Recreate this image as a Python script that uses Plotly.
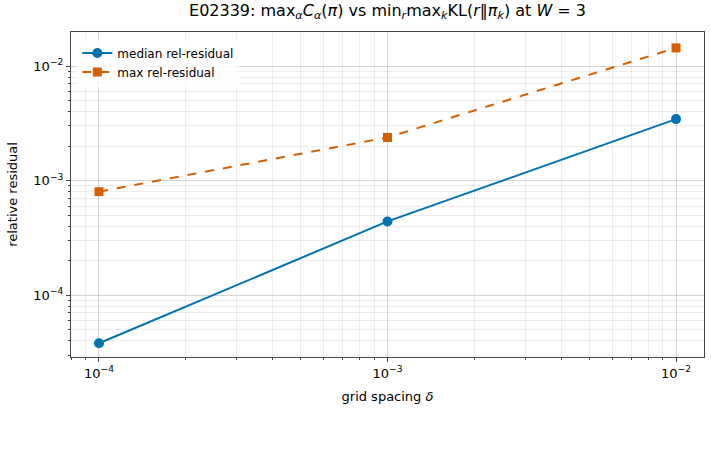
import plotly.graph_objects as go
import math

delta = [1e-4, 1e-3, 1e-2]
median_res = [3.8e-5, 4.4e-4, 3.44e-3]
max_res = [8.0e-4, 2.38e-3, 1.44e-2]

x_tickvals = [1e-4, 1e-3, 1e-2]
x_ticktext = ["10<sup>−4</sup>", "10<sup>−3</sup>", "10<sup>−2</sup>"]
y_tickvals = [1e-4, 1e-3, 1e-2]
y_ticktext = ["10<sup>−4</sup>", "10<sup>−3</sup>", "10<sup>−2</sup>"]

blue = "#0072B2"
orange = "#D55E00"

fig = go.Figure()
fig.add_trace(go.Scatter(x=delta, y=median_res, mode="lines+markers", name="median rel-residual",
                         line=dict(color=blue, width=2), marker=dict(symbol="circle", size=10, color=blue)))
fig.add_trace(go.Scatter(x=delta, y=max_res, mode="lines+markers", name="max rel-residual",
                         line=dict(color=orange, width=2, dash="dash"),
                         marker=dict(symbol="square", size=9, color=orange)))

axis_common = dict(type="log", showline=True, linecolor="#444", linewidth=1.2, mirror=True,
                   ticks="outside", ticklen=4, tickcolor="#444",
                   showgrid=True, gridcolor="rgba(0,0,0,0.10)", gridwidth=1, zeroline=False,
                   minor=dict(dtick="D1", showgrid=True, gridcolor="rgba(0,0,0,0.07)",
                              ticks="outside", ticklen=2, tickcolor="#444"),
                   tickfont=dict(size=13, color="#000"))

fig.update_layout(
    width=711, height=458,
    margin=dict(l=71, r=7, t=32, b=101),
    paper_bgcolor="white", plot_bgcolor="white",
    font=dict(family="DejaVu Sans", color="#000"),
    title=dict(text="E02339: max<sub><i>α</i></sub><i>C</i><sub><i>α</i></sub>(<i>π</i>) vs min<sub><i>r</i></sub>max<sub><i>k</i></sub>KL(<i>r</i>‖<i>π</i><sub><i>k</i></sub>) at <i>W</i> = 3",
               x=0.545, xanchor="center", y=0.99, yanchor="top", font=dict(size=16)),
    xaxis=dict(axis_common, range=[math.log10(1e-4) - 0.097, math.log10(1e-2) + 0.097],
               tickvals=x_tickvals, ticktext=x_ticktext,
               title=dict(text="grid spacing <i>δ</i>", font=dict(size=13), standoff=12)),
    yaxis=dict(axis_common, range=[-4.54, -1.703],
               tickvals=y_tickvals, ticktext=y_ticktext,
               title=dict(text="relative residual", font=dict(size=13), standoff=12)),
    legend=dict(x=0.01, y=0.98, xanchor="left", yanchor="top", bgcolor="rgba(255,255,255,0.8)",
                font=dict(size=12), borderwidth=0),
    showlegend=True,
)

fig.write_html("out.html")
